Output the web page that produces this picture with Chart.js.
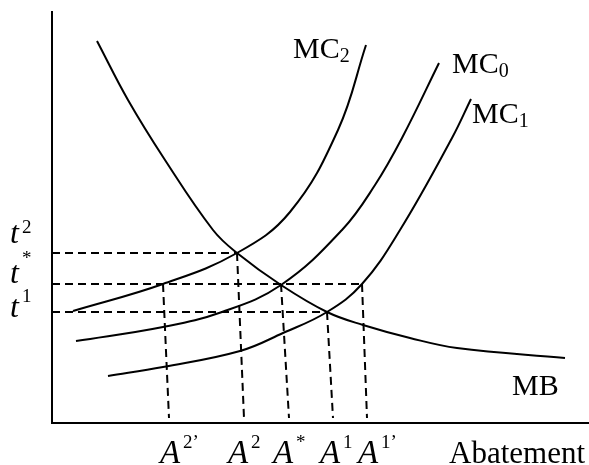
<!DOCTYPE html>
<html>
<head>
<meta charset="utf-8">
<script src="https://cdn.jsdelivr.net/npm/chart.js@4/dist/chart.umd.min.js"></script>
<style>
  html, body { margin: 0; padding: 0; background: #fff; }
  canvas { display: block; }
</style>
</head>
<body>
<canvas id="abatementChart" width="589" height="465"></canvas>
<script>
// curves (x = abatement, y = $ per unit)
const mbX = [45, 76, 113, 161, 185, 229, 275, 311, 358, 405, 513];
const mbY = [382, 323, 263, 193, 170, 138, 111, 98, 85, 75, 65];

const mc2X = [21, 111, 185, 238, 286, 314];
const mc2Y = [112, 139, 170, 211, 293, 378];

const mc0X = [24, 111, 170, 229, 290, 323, 350, 387];
const mc0Y = [82, 96, 111, 138, 193, 238, 285, 360];

const mc1X = [56, 111, 188, 231, 275, 310, 348, 400, 419];
const mc1Y = [47, 56, 72, 90, 111, 139, 193, 285, 324];

// tax levels t2, t*, t1 and how far each dashed guide runs
const tNames = ['2', '*', '1'];
const tValues = [170, 139, 111];
const tReach = [185, 310, 275];

// abatement levels A2', A2, A*, A1, A1'
const aNames = ['2\u2019', '2', '*', '1', '1\u2019'];
const aTop = [111, 185, 229, 275, 310];
const aLevel = [1, 0, 1, 2, 1];   // index into tValues
const aFoot = [117, 192, 237, 281, 315];
const aFloor = 5;

const xMax = 537;
const yMax = 411;

function pts(xs, ys) {
  return xs.map((x, i) => ({ x: x, y: ys[i] }));
}

function curve(label, xs, ys) {
  return {
    label: label,
    data: pts(xs, ys),
    borderColor: '#000',
    borderWidth: 2,
    pointRadius: 0,
    fill: false,
    tension: 0.4,
  };
}

function guide(label, a, b) {
  return {
    label: label,
    data: [a, b],
    borderColor: '#000',
    borderWidth: 2,
    borderDash: [8, 5],
    pointRadius: 0,
    fill: false,
    tension: 0,
  };
}

const datasets = [
  curve('MB', mbX, mbY),
  curve('MC2', mc2X, mc2Y),
  curve('MC0', mc0X, mc0Y),
  curve('MC1', mc1X, mc1Y),
];
tValues.forEach((t, i) => {
  datasets.push(guide('t' + tNames[i], { x: 0, y: t }, { x: tReach[i], y: t }));
});
aTop.forEach((a, i) => {
  datasets.push(guide('A' + aNames[i], { x: a, y: tValues[aLevel[i]] }, { x: aFoot[i], y: aFloor }));
});

const serif = '"Liberation Serif", "Times New Roman", serif';

function sup(ctx, base, small, x, y, sx, sy, bigFont, smallFont) {
  ctx.font = bigFont;
  ctx.fillText(base, x, y);
  ctx.font = smallFont;
  ctx.fillText(small, sx, sy);
}

const labelPlugin = {
  id: 'labels',
  afterDatasetsDraw(chart) {
    const ctx = chart.ctx;
    const xs = chart.scales.x;
    const ys = chart.scales.y;
    const area = chart.chartArea;
    ctx.save();
    ctx.fillStyle = '#000';
    ctx.textBaseline = 'alphabetic';
    ctx.textAlign = 'left';

    // tax labels left of the price axis
    const tBase = [-10, -1, 5];
    const tSup = [-10, -19, -15];
    tValues.forEach((t, i) => {
      const y = ys.getPixelForValue(t) + tBase[i];
      sup(ctx, 't', tNames[i], area.left - 42, y, area.left - 30, y + tSup[i],
        'italic 32px ' + serif, '19px ' + serif);
    });

    // abatement labels under the axis
    const aShift = [-9, -16, -16, -13, -9];
    aFoot.forEach((a, i) => {
      const x = xs.getPixelForValue(a) + aShift[i];
      const y = area.bottom + 40;
      sup(ctx, 'A', aNames[i], x, y, x + 23, y - 15,
        'italic 33px ' + serif, '19px ' + serif);
    });

    ctx.font = '31px ' + serif;
    ctx.textAlign = 'right';
    ctx.fillText('Abatement', area.right - 4, area.bottom + 40);
    ctx.textAlign = 'left';

    // curve names next to their ends
    const ends = [
      { name: 'MC', sub: '2', x: mc2X[mc2X.length - 1], y: mc2Y[mc2Y.length - 1], dx: -73, dy: 13 },
      { name: 'MC', sub: '0', x: mc0X[mc0X.length - 1], y: mc0Y[mc0Y.length - 1], dx: 13, dy: 10 },
      { name: 'MC', sub: '1', x: mc1X[mc1X.length - 1], y: mc1Y[mc1Y.length - 1], dx: 1, dy: 24 },
    ];
    ends.forEach((e) => {
      const px = xs.getPixelForValue(e.x) + e.dx;
      const py = ys.getPixelForValue(e.y) + e.dy;
      ctx.font = '30px ' + serif;
      ctx.fillText(e.name, px, py);
      const w = ctx.measureText(e.name).width;
      ctx.font = '20px ' + serif;
      ctx.fillText(e.sub, px + w, py + 4);
    });

    ctx.font = '30px ' + serif;
    ctx.fillText('MB', xs.getPixelForValue(mbX[mbX.length - 1]) - 53,
      ys.getPixelForValue(mbY[mbY.length - 1]) + 37);
    ctx.restore();
  },
};

new Chart(document.getElementById('abatementChart'), {
  type: 'line',
  data: { datasets: datasets },
  options: {
    responsive: false,
    animation: false,
    devicePixelRatio: 1,
    layout: { padding: { left: 52, top: 12, right: 0, bottom: 42 } },
    plugins: {
      legend: { display: false },
      tooltip: { enabled: false },
    },
    scales: {
      x: {
        type: 'linear',
        min: 0,
        max: xMax,
        ticks: { display: false },
        grid: { display: false, drawTicks: false },
        border: { display: true, color: '#000', width: 2 },
      },
      y: {
        type: 'linear',
        min: 0,
        max: yMax,
        ticks: { display: false },
        grid: { display: false, drawTicks: false },
        border: { display: true, color: '#000', width: 2 },
      },
    },
  },
  plugins: [labelPlugin],
});
</script>
</body>
</html>
